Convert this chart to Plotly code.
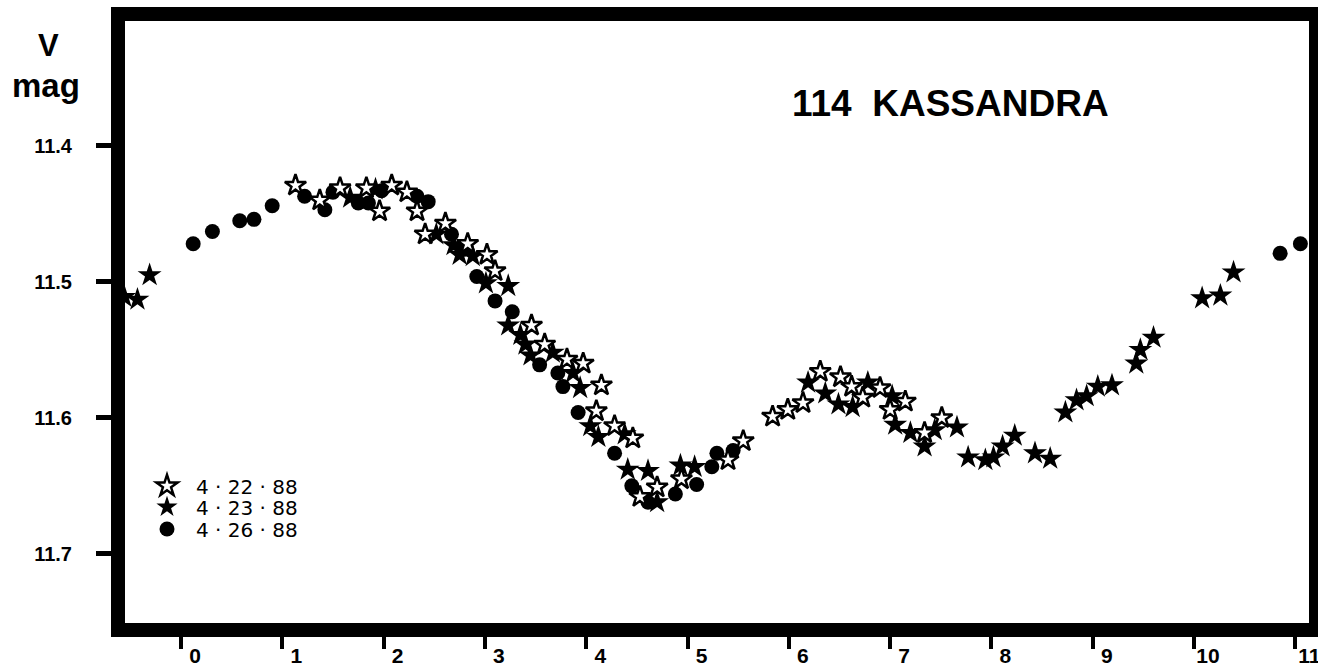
import plotly.graph_objects as go

# ---- data (rotational phase in hours vs V magnitude) ----
open_x = [1.13, 1.37, 1.57, 1.83, 1.96, 2.08, 2.23, 2.33, 2.41, 2.61, 2.83, 3.02, 3.10,
          3.46, 3.59, 3.81, 3.97, 4.10, 4.15, 4.28, 4.46, 4.53, 4.70, 4.94, 5.40, 5.55,
          5.84, 5.99, 6.14, 6.31, 6.51, 6.62, 6.73, 6.90, 7.00, 7.15, 7.34, 7.51]
open_y = [11.429, 11.440, 11.431, 11.431, 11.448, 11.429, 11.434, 11.448, 11.465, 11.457,
          11.472, 11.480, 11.492, 11.532, 11.546, 11.557, 11.560, 11.595, 11.576, 11.606,
          11.615, 11.658, 11.651, 11.645, 11.631, 11.617, 11.599, 11.594, 11.589, 11.566,
          11.570, 11.577, 11.585, 11.578, 11.594, 11.588, 11.611, 11.600]

filled_x = [-0.56, -0.43, -0.31, 1.67, 1.92, 2.52, 2.69, 2.75, 2.88, 3.01, 3.23, 3.23,
            3.35, 3.40, 3.45, 3.67, 3.87, 3.94, 4.04, 4.12, 4.38, 4.41, 4.61, 4.70, 4.93,
            5.07, 6.19, 6.36, 6.49, 6.63, 6.78, 7.02, 7.05, 7.20, 7.34, 7.44, 7.66, 7.77,
            7.94, 8.02, 8.11, 8.23, 8.43, 8.58, 8.73, 8.84, 8.94, 9.05, 9.19, 9.43, 9.47,
            9.60, 10.08, 10.26, 10.39]
filled_y = [11.511, 11.513, 11.495, 11.438, 11.432, 11.465, 11.473, 11.480, 11.481, 11.501,
            11.503, 11.532, 11.539, 11.546, 11.554, 11.552, 11.567, 11.578, 11.606, 11.614,
            11.612, 11.638, 11.639, 11.662, 11.635, 11.636, 11.574, 11.582, 11.590, 11.592,
            11.574, 11.584, 11.605, 11.611, 11.621, 11.609, 11.607, 11.629, 11.631, 11.629,
            11.621, 11.613, 11.626, 11.630, 11.596, 11.587, 11.584, 11.577, 11.576, 11.560,
            11.550, 11.541, 11.512, 11.510, 11.493]

circle_x = [0.12, 0.31, 0.58, 0.72, 0.90, 1.22, 1.42, 1.50, 1.75, 1.85, 1.98, 2.33, 2.44,
            2.67, 2.80, 2.92, 3.10, 3.27, 3.54, 3.72, 3.77, 3.92, 4.28, 4.45, 4.61, 4.88,
            5.09, 5.24, 5.29, 5.45, 10.85, 11.05]
circle_y = [11.472, 11.463, 11.455, 11.454, 11.444, 11.437, 11.447, 11.434, 11.442, 11.442,
            11.433, 11.437, 11.441, 11.465, 11.476, 11.496, 11.514, 11.522, 11.561, 11.567,
            11.577, 11.596, 11.626, 11.650, 11.662, 11.656, 11.649, 11.636, 11.626, 11.624,
            11.479, 11.472]

x_ticks = list(range(0, 12))
y_ticks = [11.4, 11.5, 11.6, 11.7]
y_tick_labels = ["11.4", "11.5", "11.6", "11.7"]
series_names = ["4 · 22 · 88", "4 · 23 · 88", "4 · 26 · 88"]

fig = go.Figure()
fig.add_trace(go.Scatter(
    x=circle_x, y=circle_y, mode="markers", name=series_names[2], legend="legend3",
    marker=dict(symbol="circle", size=15, color="black", line=dict(width=0))))
fig.add_trace(go.Scatter(
    x=filled_x, y=filled_y, mode="markers", name=series_names[1], legend="legend2",
    marker=dict(symbol="star", size=18, color="black", line=dict(width=0))))
fig.add_trace(go.Scatter(
    x=open_x, y=open_y, mode="markers", name=series_names[0], legend="legend",
    marker=dict(symbol="star", size=16, color="white", line=dict(width=2.5, color="black"))))

tickfont_y = dict(family="Liberation Sans", size=20, color="black", weight="bold")
tickfont_x = dict(family="Liberation Sans", size=21, color="black", weight="bold")
legfont = dict(family="DejaVu Sans", size=20, color="black")

L, T, B, R = 118, 14, 36, 2
W, H = 1318, 666
pw, ph = W - L - R, H - T - B

def py(p):
    return 1 - (p - T) / ph

def px(p):
    return (p - L) / pw

leg_common = dict(x=px(138), xanchor="left", yanchor="middle", bgcolor="rgba(0,0,0,0)",
                  font=legfont, borderwidth=0, itemsizing="trace", itemwidth=48)

fig.update_layout(
    width=W, height=H,
    margin=dict(l=L, r=R, t=T, b=B, autoexpand=False),
    paper_bgcolor="white", plot_bgcolor="white",
    showlegend=True,
    legend=dict(y=py(486), **leg_common),
    legend2=dict(y=py(507), **leg_common),
    legend3=dict(y=py(529), **leg_common),
    xaxis=dict(range=[-0.622, 11.204], tickvals=x_ticks, ticktext=[str(v) for v in x_ticks],
               showgrid=False, zeroline=False, showline=False,
               ticks="outside", ticklen=18, tickwidth=4, tickcolor="black",
               tickfont=tickfont_x, ticklabelshift=14, ticklabelstandoff=-11,
               ticklabeloverflow="allow"),
    yaxis=dict(range=[11.756, 11.303], tickvals=y_ticks, ticktext=y_tick_labels,
               showgrid=False, zeroline=False, showline=False,
               ticks="outside", ticklen=21, tickwidth=5, tickcolor="black",
               tickfont=tickfont_y, ticklabelstandoff=20),
    shapes=[dict(type="rect", xref="paper", yref="paper", x0=0, x1=1, y0=0, y1=1,
                 line=dict(color="black", width=14), fillcolor="rgba(0,0,0,0)", layer="above")],
    annotations=[
        dict(text="114  KASSANDRA", xref="paper", yref="paper", x=px(950), y=py(104),
             xanchor="center", yanchor="middle", showarrow=False,
             font=dict(family="Liberation Sans", size=37, color="black", weight="bold")),
        dict(text="V", xref="paper", yref="paper", x=px(48), y=py(45), xanchor="center",
             yanchor="middle", showarrow=False,
             font=dict(family="Liberation Sans", size=31, color="black", weight="bold")),
        dict(text="mag", xref="paper", yref="paper", x=px(46), y=py(85), xanchor="center",
             yanchor="middle", showarrow=False,
             font=dict(family="Liberation Sans", size=33, color="black", weight="bold")),
    ],
)

fig.write_html("out.html", config={"displayModeBar": False},
               post_script="document.body.style.margin='0';")
